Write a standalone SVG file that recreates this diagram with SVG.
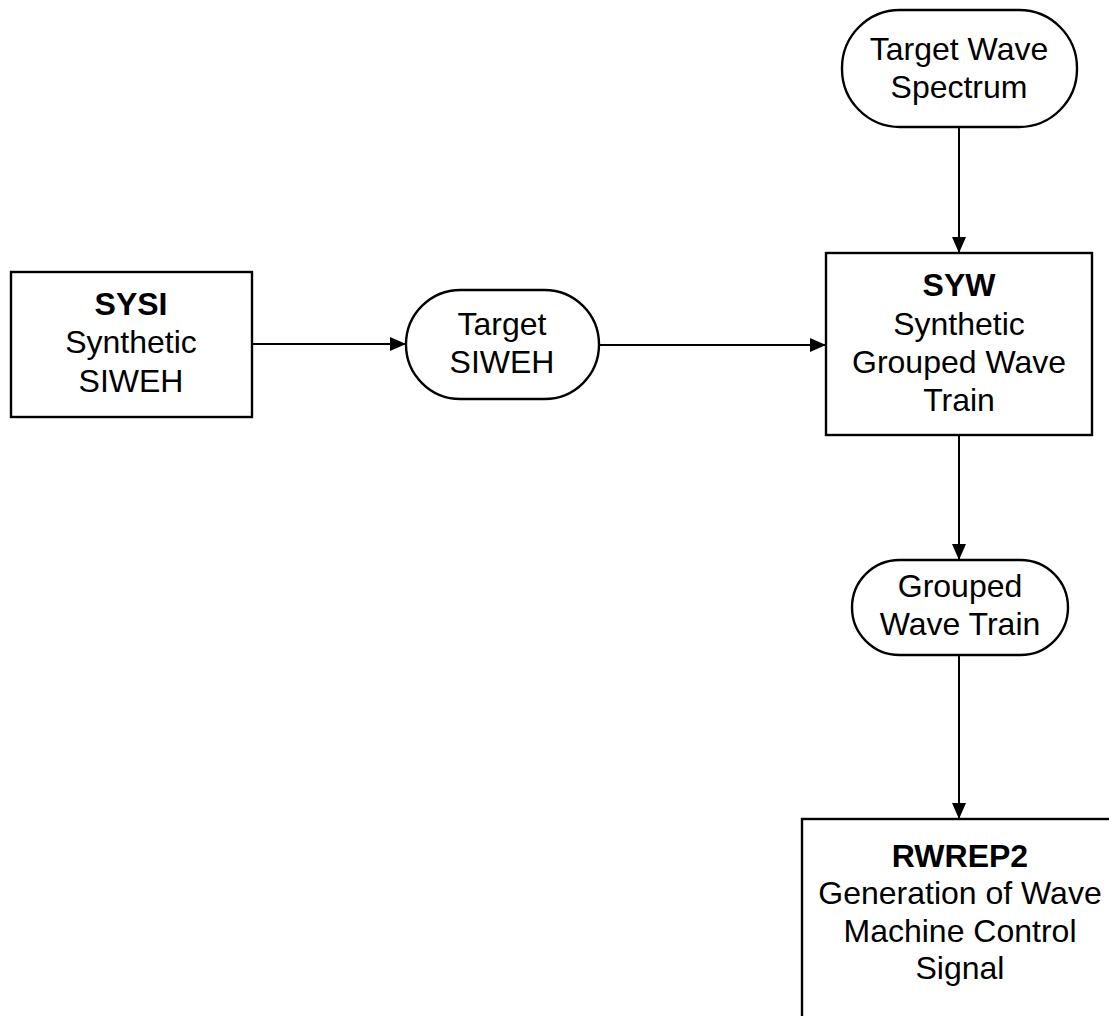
<svg xmlns="http://www.w3.org/2000/svg" width="1109" height="1016" viewBox="0 0 1109 1016">
<defs>
<style>
.box{fill:#fff;stroke:#000;stroke-width:2.4}
.t{font-family:"Liberation Sans",Arial,sans-serif;font-size:32px;fill:#000;text-anchor:middle}
.b{font-weight:bold}
.c{fill:none;stroke:#000;stroke-width:2}
</style>
<marker id="ah" viewBox="0 0 16 14" refX="16" refY="7" markerWidth="16" markerHeight="14" markerUnits="userSpaceOnUse" orient="auto">
<path d="M0,0 L16,7 L0,14 Z" fill="#000"/>
</marker>
</defs>
<rect width="1109" height="1016" fill="#fff"/>
<g id="connectors">
<line class="c" x1="252" y1="344" x2="406" y2="344" marker-end="url(#ah)"/>
<line class="c" x1="599" y1="345" x2="826" y2="345" marker-end="url(#ah)"/>
<line class="c" x1="959" y1="127" x2="959" y2="253" marker-end="url(#ah)"/>
<line class="c" x1="959" y1="435" x2="959" y2="560" marker-end="url(#ah)"/>
<line class="c" x1="959" y1="655" x2="959" y2="819" marker-end="url(#ah)"/>
</g>
<g id="sysi">
<rect class="box" x="11" y="272" width="241" height="145"/>
<text class="t b" x="131" y="315">SYSI</text>
<text class="t" x="131" y="353">Synthetic</text>
<text class="t" x="131" y="392">SIWEH</text>
</g>
<g id="target-siweh">
<rect class="box" x="406" y="290" width="193" height="109" rx="54.5" ry="54.5"/>
<text class="t" x="502" y="335">Target</text>
<text class="t" x="502" y="373">SIWEH</text>
</g>
<g id="target-wave-spectrum">
<rect class="box" x="842" y="10" width="235" height="117" rx="58" ry="58"/>
<text class="t" x="959" y="60">Target Wave</text>
<text class="t" x="959" y="98">Spectrum</text>
</g>
<g id="syw">
<rect class="box" x="826" y="253" width="266" height="182"/>
<text class="t b" x="959" y="296">SYW</text>
<text class="t" x="959" y="335">Synthetic</text>
<text class="t" x="959" y="373">Grouped Wave</text>
<text class="t" x="959" y="411">Train</text>
</g>
<g id="grouped-wave-train">
<rect class="box" x="852" y="560" width="216" height="95" rx="47.5" ry="47.5"/>
<text class="t" x="960" y="597">Grouped</text>
<text class="t" x="960" y="635">Wave Train</text>
</g>
<g id="rwrep2">
<rect class="box" x="802" y="819" width="340" height="240"/>
<text class="t b" x="960" y="867">RWREP2</text>
<text class="t" x="960" y="904">Generation of Wave</text>
<text class="t" x="960" y="942">Machine Control</text>
<text class="t" x="960" y="979">Signal</text>
</g>
</svg>
